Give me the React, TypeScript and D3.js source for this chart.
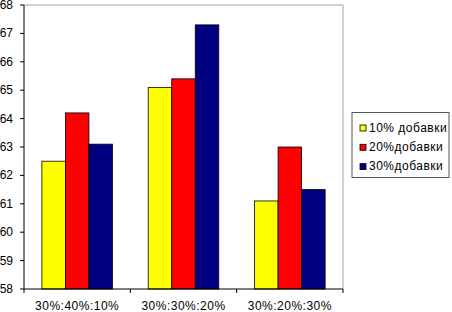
import React from "react";
import * as d3 from "d3";

const categories = ["30%:40%:10%", "30%:30%:20%", "30%:20%:30%"];
const seriesNames = ["10% добавки", "20%добавки", "30%добавки"];
const seriesColors = ["#FFFF00", "#FF0000", "#000080"];
const series10 = [62.5, 65.1, 61.1];
const series20 = [64.2, 65.4, 63.0];
const series30 = [63.1, 67.3, 61.5];
const yTicks = [58, 59, 60, 61, 62, 63, 64, 65, 66, 67, 68];

export default function App() {
  const W = 452, H = 312;
  const left = 24, right = 343, top = 5, bottom = 289;
  const seriesValues = [series10, series20, series30];
  const x = d3.scaleBand<string>().domain(categories).range([left, right]).paddingInner(0).paddingOuter(0);
  const inner = d3.scaleBand<number>().domain([0, 1, 2]).range([0, x.bandwidth()]).paddingOuter(0.76).paddingInner(0);
  const y = d3.scaleLinear().domain([58, 68]).range([bottom, top]);
  const font = "Liberation Sans, Arial, sans-serif";
  return (
    <svg width={W} height={H} style={{ position: "absolute", left: 0, top: 0, background: "#fff" }}>
      <rect x={0} y={0} width={W} height={H} fill="#fff" />
      <line x1={left} x2={right} y1={top} y2={top} stroke="#c0c0c0" strokeWidth={1.5} />
      <line x1={right} x2={right} y1={top} y2={bottom} stroke="#c0c0c0" strokeWidth={1.5} />
      {categories.map((c, ci) =>
        seriesValues.map((vals, si) => (
          <rect
            key={`${ci}-${si}`}
            x={x(c)! + inner(si)!}
            y={y(vals[ci])}
            width={inner.bandwidth()}
            height={bottom - y(vals[ci])}
            fill={seriesColors[si]}
            stroke="#000"
            strokeWidth={0.8}
          />
        ))
      )}
      <line x1={left} x2={left} y1={top} y2={bottom} stroke="#000" strokeWidth={1} />
      <line x1={left} x2={right} y1={bottom} y2={bottom} stroke="#000" strokeWidth={1} />
      {yTicks.map((t) => (
        <g key={t}>
          <line x1={left - 4} x2={left} y1={y(t)} y2={y(t)} stroke="#000" />
          <text x={13} y={y(t) + 4} textAnchor="end" fontFamily={font} fontSize={12} fill="#000">
            {t}
          </text>
        </g>
      ))}
      {[...categories.map((c) => x(c)!), right].map((px, i) => (
        <line key={i} x1={px} x2={px} y1={bottom} y2={bottom + 4} stroke="#000" />
      ))}
      {categories.map((c) => (
        <text key={c} x={x(c)! + x.bandwidth() / 2} y={310} textAnchor="middle" fontFamily={font} fontSize={12} letterSpacing={0.5} fill="#000">
          {c}
        </text>
      ))}
      <rect x={352} y={112.5} width={97} height={65} fill="#fff" stroke="#555" strokeWidth={1} />
      {seriesNames.map((n, i) => (
        <g key={n}>
          <rect x={360} y={125 + i * 19.3} width={6} height={6} fill={seriesColors[i]} stroke="#000" strokeWidth={0.8} />
          <text x={369} y={131.5 + i * 19.3} fontFamily={font} fontSize={12} letterSpacing={0.5} fill="#000">
            {n}
          </text>
        </g>
      ))}
    </svg>
  );
}
